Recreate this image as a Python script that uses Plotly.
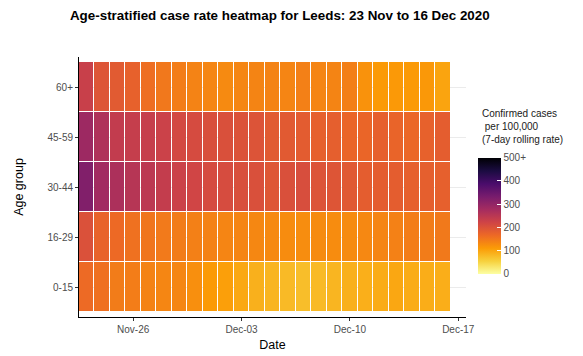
import pandas as pd
import plotly.graph_objects as go

# Dates: 23 Nov to 16 Dec 2020
dates = pd.date_range("2020-11-23", "2020-12-16", freq="D").strftime("%Y-%m-%d").tolist()
age_groups = ["0-15", "16-29", "30-44", "45-59", "60+"]

rate_0_15 = [166, 159, 146, 144, 138, 134, 134, 125, 112, 107, 98, 89,
             84, 79, 75, 79, 84, 89, 91, 94, 99, 94, 93, 92]
rate_16_29 = [202, 176, 167, 158, 153, 148, 146, 141, 139, 136, 136, 133,
              131, 128, 127, 129, 128, 129, 132, 136, 140, 144, 146, 149]
rate_30_44 = [322, 282, 268, 255, 248, 238, 228, 220, 212, 210, 206, 204,
              194, 204, 207, 198, 196, 190, 184, 184, 184, 180, 182, 180]
rate_45_59 = [288, 265, 240, 236, 234, 228, 215, 212, 205, 204, 200, 198,
              188, 189, 186, 180, 181, 172, 172, 180, 174, 170, 178, 184]
rate_60_plus = [231, 197, 188, 178, 161, 150, 144, 138, 135, 130, 135, 137,
                138, 136, 141, 136, 137, 142, 121, 112, 113, 112, 114, 102]

cbar_tickvals = [0, 100, 200, 300, 400, 500]
cbar_ticktext = ["0", "100", "200", "300", "400", "500+"]
x_tickvals = ["2020-11-26", "2020-12-03", "2020-12-10", "2020-12-17"]

z = [rate_0_15, rate_16_29, rate_30_44, rate_45_59, rate_60_plus]

FONT = "Liberation Sans, Arial, sans-serif"
GREY = "#4D4D4D"

fig = go.Figure(go.Heatmap(
    x=dates, y=age_groups, z=z,
    zmin=0, zmax=500,
    colorscale="Inferno_r",
    xgap=1, ygap=1,
    colorbar=dict(
        tickvals=cbar_tickvals, ticktext=cbar_ticktext,
        tickfont=dict(size=10, color=GREY, family=FONT),
        ticks="inside", tickcolor="white", ticklen=4,
        outlinewidth=0,
        thickness=23, thicknessmode="pixels",
        len=116, lenmode="pixels",
        x=1.031, xanchor="left",
        y=0.39, yanchor="middle",
        ypad=0, xpad=0,
    ),
    hovertemplate="%{x}<br>%{y}: %{z}<extra></extra>",
))

fig.add_annotation(
    text="Confirmed cases<br> per 100,000<br>(7-day rolling rate)",
    xref="paper", yref="paper", x=1.036, y=(317 - 106) / 260,
    xanchor="left", yanchor="top", align="left", showarrow=False,
    font=dict(size=10, color="#1a1a1a", family=FONT),
)

fig.update_layout(
    width=583, height=356,
    margin=dict(l=79, r=117, t=57, b=39),
    paper_bgcolor="white", plot_bgcolor="white",
    font=dict(family=FONT, size=10, color=GREY),
    title=dict(text="<b>Age-stratified case rate heatmap for Leeds: 23 Nov to 16 Dec 2020</b>",
               x=0.48, xanchor="center", y=0.958, yanchor="middle",
               font=dict(size=13.4, color="black", family=FONT)),
    xaxis=dict(
        type="date",
        range=["2020-11-22 12:00", "2020-12-17 12:00"],
        tickvals=x_tickvals, tickformat="%b-%d",
        ticks="outside", ticklen=3, tickcolor="#333333",
        showline=True, linecolor="black", linewidth=1,
        showgrid=False, zeroline=False, automargin=False,
        tickfont=dict(size=10, color=GREY),
        title=dict(text="Date", font=dict(size=12.5, color="black"), standoff=6),
    ),
    yaxis=dict(
        type="category",
        range=[-0.6, 4.6],
        ticks="outside", ticklen=3, tickcolor="#333333",
        showline=True, linecolor="black", linewidth=1,
        showgrid=True, gridcolor="#EBEBEB", gridwidth=1,
        zeroline=False, automargin=False,
        tickfont=dict(size=10, color=GREY),
        title=dict(text="Age group", font=dict(size=12.5, color="black"), standoff=21),
    ),
)

fig.write_html("out.html", config={"displayModeBar": False},
               post_script="document.body.style.margin='0px';")
